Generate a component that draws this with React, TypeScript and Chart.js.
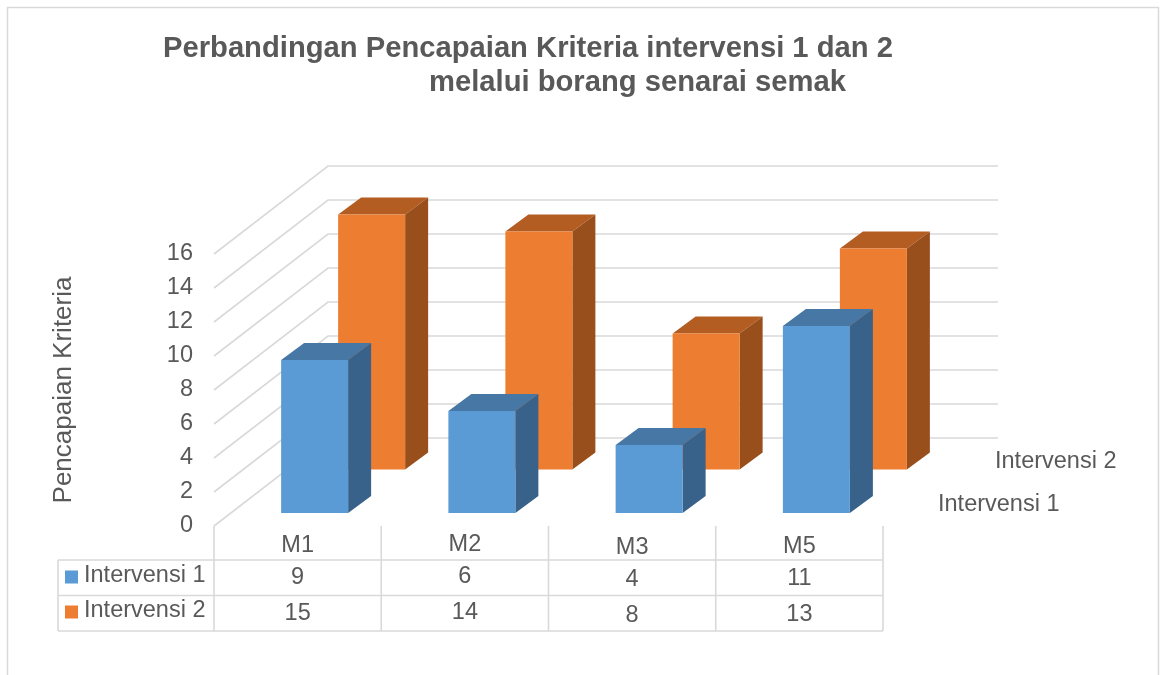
import React, { useEffect, useRef } from "react";
import { Chart, registerables } from "chart.js";

Chart.register(...registerables);

const categories = ["M1", "M2", "M3", "M5"];
const intervensi1 = [9, 6, 4, 11];
const intervensi2 = [15, 14, 8, 13];
const seriesNames = ["Intervensi 1", "Intervensi 2"];
const titleLines = ["Perbandingan Pencapaian Kriteria intervensi 1 dan 2", "melalui borang senarai semak"];
const yAxisTitle = "Pencapaian Kriteria";

const FONT = "'Liberation Sans', Arial, sans-serif";
const TEXT = "#595959";
const GRID = "#D9D9D9";

const palette = [
  { front: "#5B9BD5", top: "#4777A5", side: "#386289" },
  { front: "#ED7D31", top: "#B45D22", side: "#984F1C" },
];
// where each series row sits in the 3D depth (offset from the category centre / floor front)
const depth = [
  { dx: 17, dy: -13 },
  { dx: 74, dy: -56.5 },
];
const BOX_DX = 23;
const BOX_DY = -17;
const WALL_DX = 114;
const WALL_DY = -88;
const WALL_RIGHT = 998;
// the source picture is slightly uneven; nudges per table column
const rowY = [546, 578, 614];
const colNudgeY = [0, -1, 1.5, 1];

const poly = (ctx: CanvasRenderingContext2D, pts: number[][], color: string) => {
  ctx.beginPath();
  pts.forEach(([x, y], i) => (i ? ctx.lineTo(x, y) : ctx.moveTo(x, y)));
  ctx.closePath();
  ctx.fillStyle = color;
  ctx.fill();
};

const scene = {
  id: "scene3d",
  beforeDatasetsDraw(chart: any) {
    const { ctx, scales } = chart;
    const y = scales.y;
    const left = chart.chartArea.left;
    ctx.save();
    ctx.strokeStyle = GRID;
    ctx.lineWidth = 1.6;
    y.ticks.forEach((t: any) => {
      const py = y.getPixelForValue(t.value);
      ctx.beginPath();
      ctx.moveTo(left, py);
      ctx.lineTo(left + WALL_DX, py + WALL_DY);
      ctx.lineTo(WALL_RIGHT, py + WALL_DY);
      ctx.stroke();
    });
    ctx.restore();
  },
  afterDatasetsDraw(chart: any) {
    const { ctx } = chart;
    ctx.save();
    for (const d of [1, 0]) {
      const meta = chart.getDatasetMeta(d);
      const c = palette[d];
      meta.data.forEach((bar: any) => {
        const l = bar.x - bar.width / 2 + depth[d].dx;
        const r = l + bar.width;
        const t = bar.y + depth[d].dy;
        const b = bar.base + depth[d].dy;
        poly(ctx, [[l, t], [r, t], [r + BOX_DX, t + BOX_DY], [l + BOX_DX, t + BOX_DY]], c.top);
        poly(ctx, [[r, t], [r + BOX_DX, t + BOX_DY], [r + BOX_DX, b + BOX_DY], [r, b]], c.side);
        poly(ctx, [[l, t], [r, t], [r, b], [l, b]], c.front);
      });
    }
    ctx.restore();
  },
  afterDraw(chart: any) {
    const { ctx, chartArea, scales, width, height } = chart;
    const xs = scales.x;
    const top = chartArea.bottom;
    const tableLeft = 58;
    const rows = [560, 595.5, 631];
    ctx.save();
    // outer frame (open at the bottom)
    ctx.strokeStyle = GRID;
    ctx.lineWidth = 1.5;
    ctx.beginPath();
    ctx.moveTo(7.5, height);
    ctx.lineTo(7.5, 7.5);
    ctx.lineTo(width - 1.5, 7.5);
    ctx.lineTo(width - 1.5, height);
    ctx.stroke();

    // data table grid
    ctx.lineWidth = 1.6;
    ctx.beginPath();
    rows.forEach((ry) => {
      ctx.moveTo(tableLeft, ry);
      ctx.lineTo(chartArea.right, ry);
    });
    ctx.moveTo(tableLeft, rows[0]);
    ctx.lineTo(tableLeft, rows[2]);
    const step = (chartArea.right - chartArea.left) / categories.length;
    for (let i = 0; i <= categories.length; i++) {
      const vx = chartArea.left + step * i;
      ctx.moveTo(vx, top);
      ctx.lineTo(vx, rows[2]);
    }
    ctx.stroke();

    ctx.font = `23.5px ${FONT}`;
    ctx.fillStyle = TEXT;
    ctx.textBaseline = "middle";
    ctx.textAlign = "center";
    categories.forEach((c, i) => {
      const cx = xs.getPixelForValue(i);
      ctx.fillText(c, cx, rowY[0] + colNudgeY[i]);
      ctx.fillText(String(intervensi1[i]), cx, rowY[1] + colNudgeY[i]);
      ctx.fillText(String(intervensi2[i]), cx, rowY[2] + colNudgeY[i]);
    });

    // legend keys inside the table
    ctx.textAlign = "left";
    seriesNames.forEach((n, i) => {
      const cy = 577 + 35 * i;
      ctx.fillStyle = palette[i].front;
      ctx.fillRect(65, cy - 6.5, 13, 13);
      ctx.fillStyle = TEXT;
      ctx.fillText(n, 84, cy - 1);
    });

    // depth axis labels
    ctx.fillText(seriesNames[1], 995, 462);
    ctx.fillText(seriesNames[0], 938, 505);

    // title
    ctx.font = `bold 29.2px ${FONT}`;
    ctx.fillText(titleLines[0], 163, 49);
    ctx.fillText(titleLines[1], 429, 83);
    ctx.restore();
  },
};

export default function App() {
  const ref = useRef<HTMLCanvasElement>(null);
  useEffect(() => {
    if (!ref.current) return;
    const chart = new Chart(ref.current, {
      type: "bar",
      data: {
        labels: categories,
        datasets: [
          { label: seriesNames[0], data: intervensi1, backgroundColor: "rgba(0,0,0,0)" },
          { label: seriesNames[1], data: intervensi2, backgroundColor: "rgba(0,0,0,0)" },
        ],
      },
      options: {
        responsive: false,
        animation: false,
        grouped: false,
        barThickness: 67,
        layout: { padding: { left: 48, right: 277, top: 254, bottom: 100 } },
        plugins: { legend: { display: false }, tooltip: { enabled: false }, title: { display: false } },
        scales: {
          x: {
            grid: { display: false },
            border: { display: false },
            ticks: { display: false },
            afterFit: (s: any) => { s.height = 49; },
          },
          y: {
            min: 0,
            max: 16,
            grid: { display: false },
            border: { display: false },
            afterFit: (s: any) => { s.width = 166; },
            ticks: {
              stepSize: 2,
              padding: 13,
              color: TEXT,
              font: { family: FONT, size: 23.5 },
            },
            title: {
              display: true,
              text: yAxisTitle,
              color: TEXT,
              font: { family: FONT, size: 26 },
              padding: 0,
            },
          },
        },
      } as any,
      plugins: [scene],
    });
    return () => chart.destroy();
  }, []);
  return (
    <div style={{ position: "absolute", left: 0, top: 0, width: 1160, height: 675, background: "#fff" }}>
      <canvas ref={ref} width={1160} height={675} style={{ display: "block" }} />
    </div>
  );
}
